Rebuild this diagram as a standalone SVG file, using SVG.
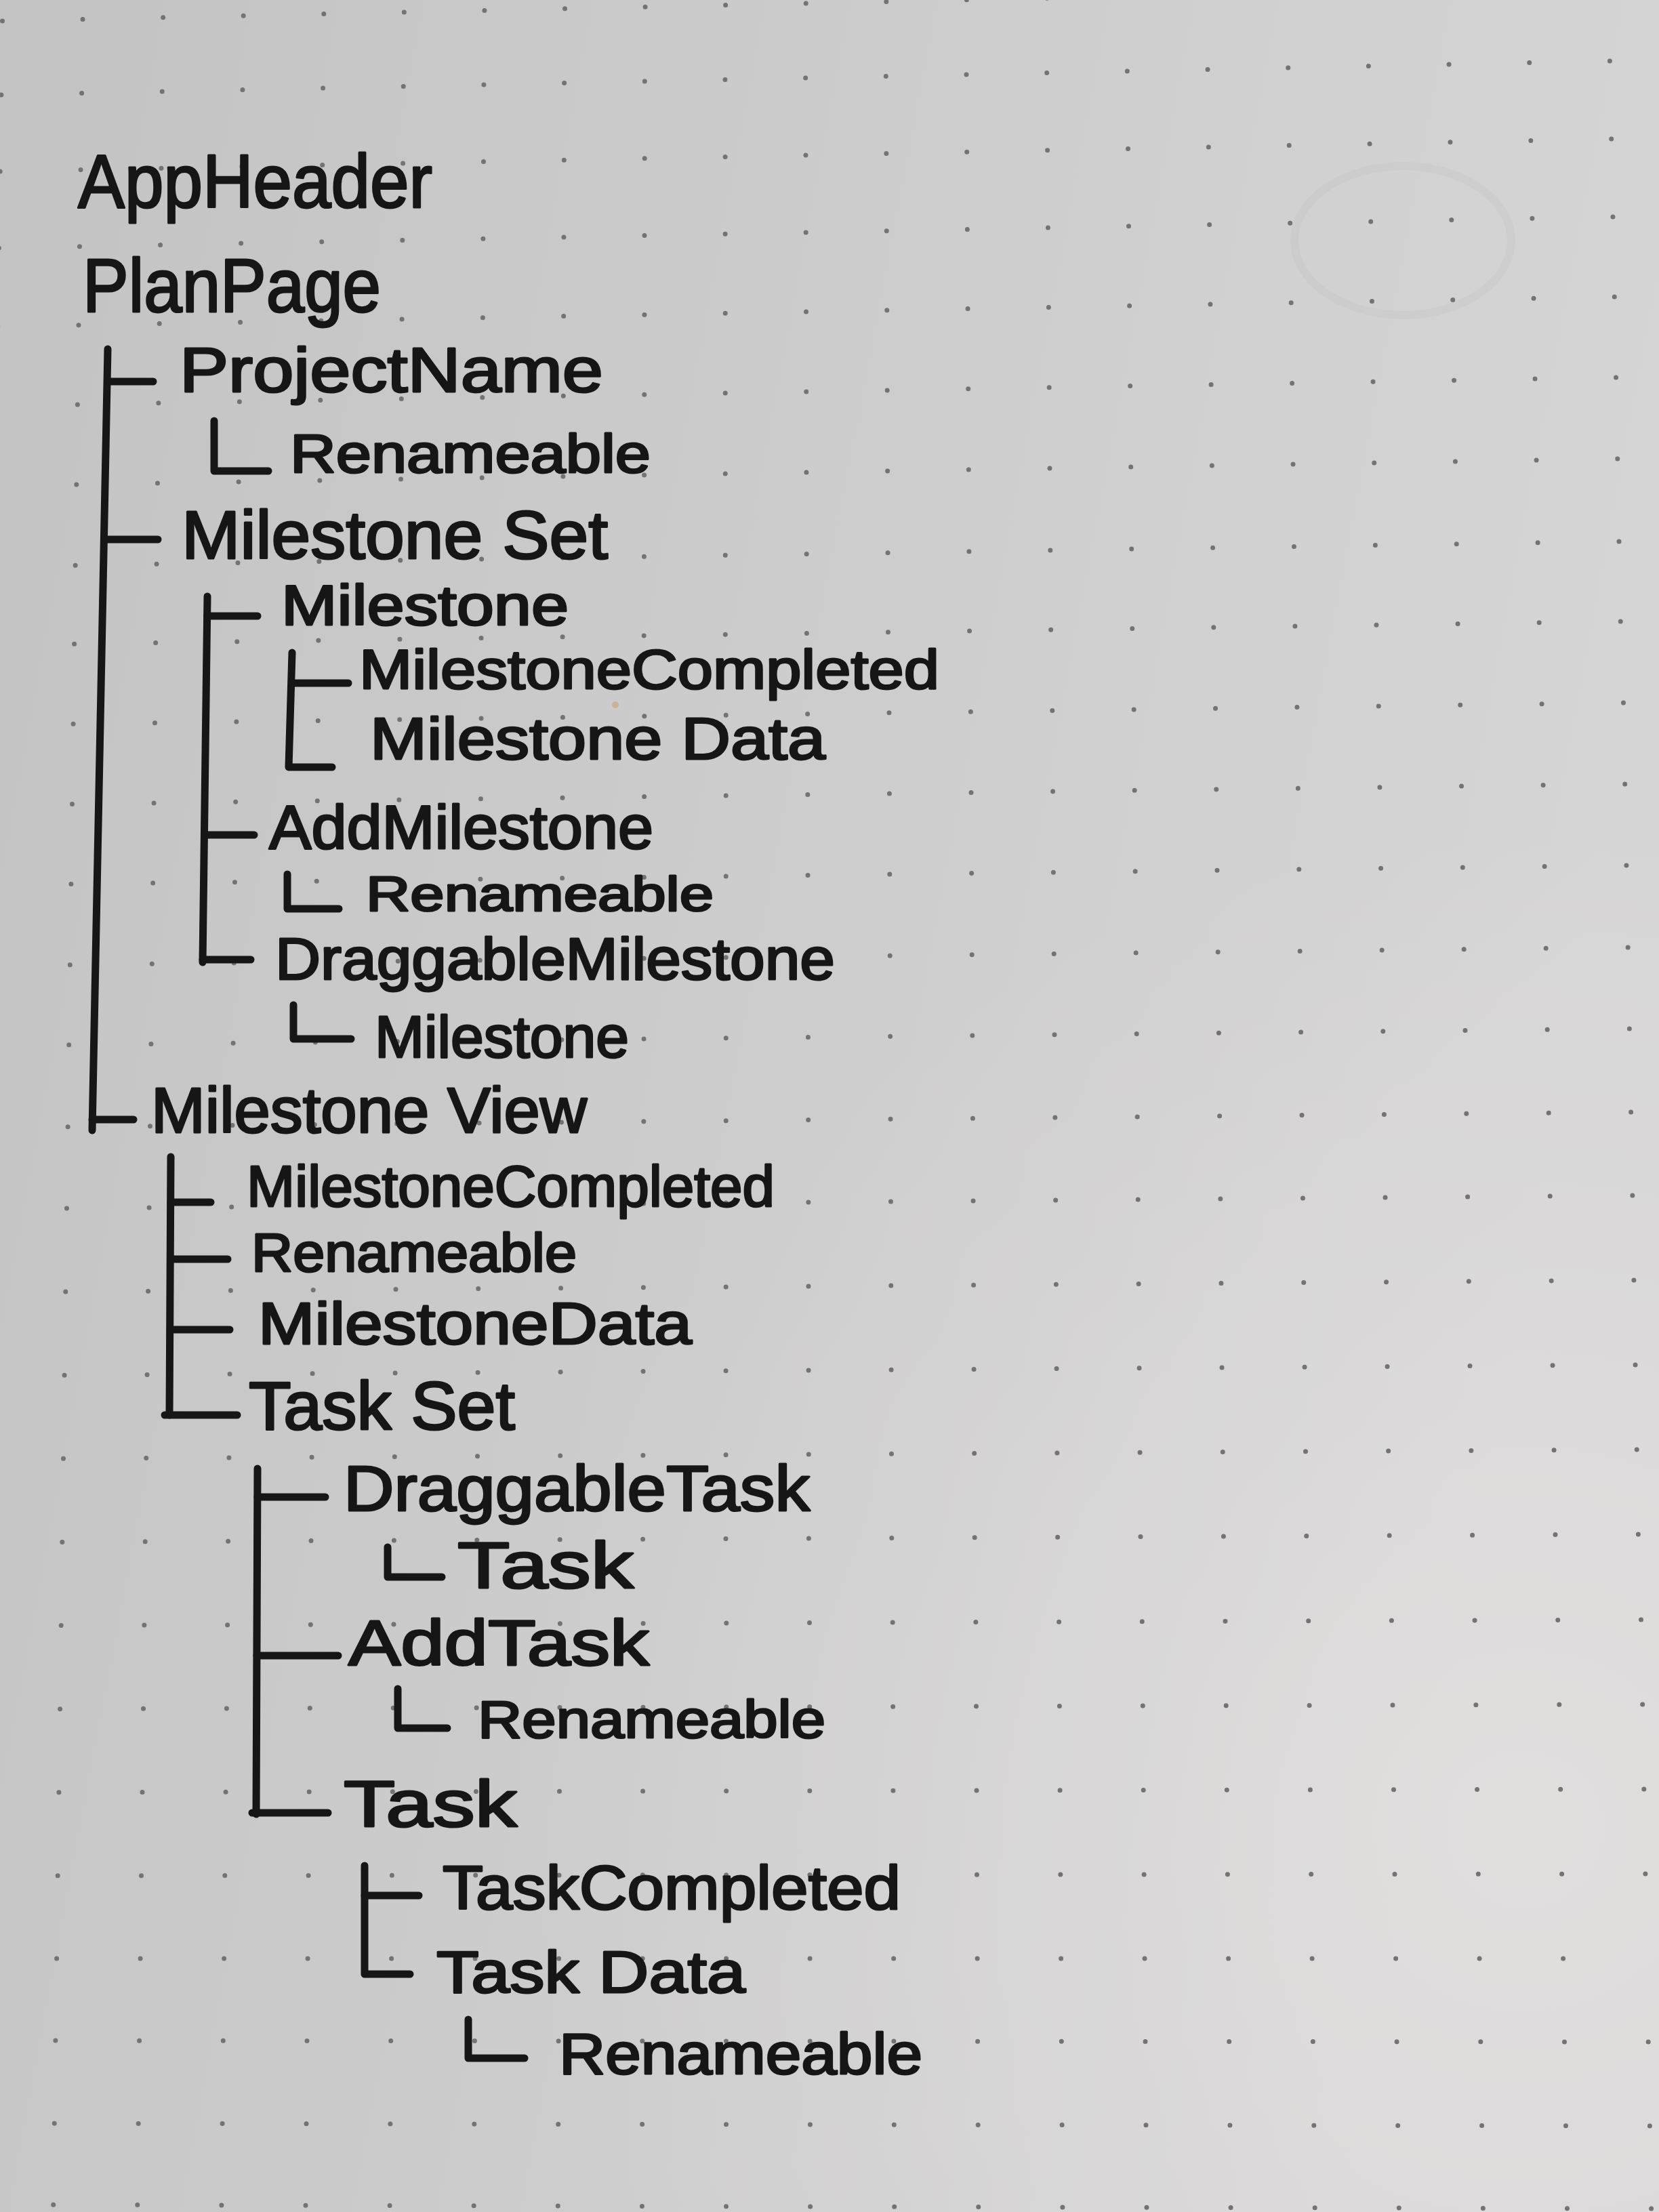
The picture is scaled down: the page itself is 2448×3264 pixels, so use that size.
<svg xmlns="http://www.w3.org/2000/svg" width="2448" height="3264" viewBox="0 0 2448 3264">
  <defs>
    <linearGradient id="paper" x1="0" y1="0" x2="1" y2="0.25">
      <stop offset="0" stop-color="#c3c3c3"/>
      <stop offset="0.5" stop-color="#cccccc"/>
      <stop offset="1" stop-color="#d6d5d5"/>
    </linearGradient>
    <radialGradient id="glow" cx="2250" cy="2700" r="1500" gradientUnits="userSpaceOnUse">
      <stop offset="0" stop-color="#f4eeee" stop-opacity="0.35"/>
      <stop offset="1" stop-color="#f4eeee" stop-opacity="0"/>
    </radialGradient>
    <style>
      .dots path { fill: none; stroke: #737375; stroke-width: 7; stroke-linecap: round; }
      .wire { fill: none; stroke: #161616; stroke-width: 11; stroke-linecap: round; stroke-linejoin: round; }
      .lbl { font-family: "Liberation Sans", "DejaVu Sans", sans-serif; fill: #161616; stroke: #161616; stroke-width: 3; stroke-linejoin: round; }
    </style>
  </defs>

  <!-- paper -->
  <rect width="2448" height="3264" fill="url(#paper)"/>
  <rect width="2448" height="3264" fill="url(#glow)"/>
  <ellipse cx="2070" cy="355" rx="160" ry="110" fill="none" stroke="#000" stroke-opacity="0.025" stroke-width="12"/>
  <circle cx="908" cy="1040" r="5" fill="#d2a57e" opacity="0.7"/>

  <!-- dot grid, one dashed stroke per row -->
  <g class="dots">
    <path d="M3.5 31l2372 -52" stroke-dasharray="0 118.6"/>
    <path d="M1.9 140l2374 -50" stroke-dasharray="0 118.7"/>
    <path d="M0.2 253l2378 -48" stroke-dasharray="0 118.9"/>
    <path d="M-1.6 366l2382 -46" stroke-dasharray="0 119.1"/>
    <path d="M-3.3 482l2386 -44" stroke-dasharray="0 119.3"/>
    <path d="M-5.1 599l2390 -42" stroke-dasharray="0 119.5"/>
    <path d="M-6.9 717l2394 -40" stroke-dasharray="0 119.7"/>
    <path d="M-8.7 836l2398 -37" stroke-dasharray="0 119.9"/>
    <path d="M-10.5 952l2402 -35" stroke-dasharray="0 120.1"/>
    <path d="M-12.3 1070l2408 -33" stroke-dasharray="0 120.4"/>
    <path d="M-14.1 1188l2412 -31" stroke-dasharray="0 120.6"/>
    <path d="M-15.9 1306l2416 -29" stroke-dasharray="0 120.8"/>
    <path d="M-17.7 1425l2420 -27" stroke-dasharray="0 121"/>
    <path d="M-19.5 1543l2424 -25" stroke-dasharray="0 121.2"/>
    <path d="M-21.3 1664l2428 -23" stroke-dasharray="0 121.4"/>
    <path d="M-23.1 1784l2432 -20" stroke-dasharray="0 121.6"/>
    <path d="M-25 1907l2436 -18" stroke-dasharray="0 121.8"/>
    <path d="M-26.9 2030l2440 -16" stroke-dasharray="0 122"/>
    <path d="M-28.7 2153l2444 -14" stroke-dasharray="0 122.2"/>
    <path d="M-30.6 2276l2448 -12" stroke-dasharray="0 122.4"/>
    <path d="M-32.5 2399l2454 -9" stroke-dasharray="0 122.7"/>
    <path d="M-34.3 2522l2458 -7" stroke-dasharray="0 122.9"/>
    <path d="M-36.2 2645l2462 -5" stroke-dasharray="0 123.1"/>
    <path d="M-38.1 2768l2466 -3" stroke-dasharray="0 123.3"/>
    <path d="M-39.9 2890l2470 0" stroke-dasharray="0 123.5"/>
    <path d="M-41.8 3011l2474 2" stroke-dasharray="0 123.7"/>
    <path d="M-43.6 3133l2478 4" stroke-dasharray="0 123.9"/>
    <path d="M-45.4 3253l2482 6" stroke-dasharray="0 124.1"/>
  </g>

  <!-- tree connectors -->
  <g id="connectors" class="wire">
    <!-- PlanPage children -->
    <path d="M159 515 L136 1668"/>
    <path d="M159 563 H226"/>
    <path d="M154 796 H233"/>
    <path d="M136 1652 H197"/>
    <path d="M316 621 V695 H396"/>
    <!-- Milestone Set children -->
    <path d="M306 880 L299 1420"/>
    <path d="M306 909 H380"/>
    <path d="M302 1232 H375"/>
    <path d="M299 1416 H370"/>
    <!-- Milestone children -->
    <path d="M431 963 L426 1132 H490"/>
    <path d="M431 1008 H514"/>
    <path d="M424 1290 V1341 H500"/>
    <path d="M433 1483 V1533 H518"/>
    <!-- Milestone View children -->
    <path d="M252 1707 L250 2088"/>
    <path d="M252 1774 H311"/>
    <path d="M252 1858 H336"/>
    <path d="M251 1962 H339"/>
    <path d="M243 2088 H350"/>
    <!-- Task Set children -->
    <path d="M380 2167 L378 2677"/>
    <path d="M380 2209 H480"/>
    <path d="M379 2443 H499"/>
    <path d="M372 2675 H484"/>
    <path d="M572 2283 V2327 H652"/>
    <path d="M587 2492 V2550 H660"/>
    <!-- Task children -->
    <path d="M538 2753 V2913 H605"/>
    <path d="M538 2797 H618"/>
    <path d="M691 2980 V3037 H774"/>
  </g>

  <!-- nodes -->
  <g id="app-header"><text class="lbl" x="115" y="306" font-size="112" textLength="523" lengthAdjust="spacingAndGlyphs">AppHeader</text></g>
  <g id="plan-page"><text class="lbl" x="122" y="460" font-size="112" textLength="440" lengthAdjust="spacingAndGlyphs">PlanPage</text></g>
  <g id="project-name"><text class="lbl" x="265" y="578" font-size="92" textLength="625" lengthAdjust="spacingAndGlyphs">ProjectName</text></g>
  <g id="project-name-renameable"><text class="lbl" x="428" y="697" font-size="80" textLength="532" lengthAdjust="spacingAndGlyphs">Renameable</text></g>
  <g id="milestone-set"><text class="lbl" x="268" y="824" font-size="100" textLength="629" lengthAdjust="spacingAndGlyphs">Milestone Set</text></g>
  <g id="milestone"><text class="lbl" x="415" y="922" font-size="84" textLength="424" lengthAdjust="spacingAndGlyphs">Milestone</text></g>
  <g id="milestone-completed"><text class="lbl" x="530" y="1016" font-size="82" textLength="856" lengthAdjust="spacingAndGlyphs">MilestoneCompleted</text></g>
  <g id="milestone-data"><text class="lbl" x="546" y="1120" font-size="88" textLength="672" lengthAdjust="spacingAndGlyphs">Milestone Data</text></g>
  <g id="add-milestone"><text class="lbl" x="397" y="1252" font-size="90" textLength="567" lengthAdjust="spacingAndGlyphs">AddMilestone</text></g>
  <g id="add-milestone-renameable"><text class="lbl" x="540" y="1344" font-size="72" textLength="513" lengthAdjust="spacingAndGlyphs">Renameable</text></g>
  <g id="draggable-milestone"><text class="lbl" x="406" y="1445" font-size="88" textLength="826" lengthAdjust="spacingAndGlyphs">DraggableMilestone</text></g>
  <g id="draggable-milestone-milestone"><text class="lbl" x="553" y="1560" font-size="88" textLength="375" lengthAdjust="spacingAndGlyphs">Milestone</text></g>
  <g id="milestone-view"><text class="lbl" x="223" y="1671" font-size="95" textLength="643" lengthAdjust="spacingAndGlyphs">Milestone View</text></g>
  <g id="view-milestone-completed"><text class="lbl" x="364" y="1780" font-size="85" textLength="779" lengthAdjust="spacingAndGlyphs">MilestoneCompleted</text></g>
  <g id="view-renameable"><text class="lbl" x="371" y="1876" font-size="80" textLength="480" lengthAdjust="spacingAndGlyphs">Renameable</text></g>
  <g id="view-milestone-data"><text class="lbl" x="381" y="1983" font-size="88" textLength="640" lengthAdjust="spacingAndGlyphs">MilestoneData</text></g>
  <g id="task-set"><text class="lbl" x="367" y="2109" font-size="100" textLength="393" lengthAdjust="spacingAndGlyphs">Task Set</text></g>
  <g id="draggable-task"><text class="lbl" x="507" y="2229" font-size="95" textLength="688" lengthAdjust="spacingAndGlyphs">DraggableTask</text></g>
  <g id="draggable-task-task"><text class="lbl" x="675" y="2343" font-size="96" textLength="260" lengthAdjust="spacingAndGlyphs">Task</text></g>
  <g id="add-task"><text class="lbl" x="514" y="2457" font-size="95" textLength="444" lengthAdjust="spacingAndGlyphs">AddTask</text></g>
  <g id="add-task-renameable"><text class="lbl" x="705" y="2564" font-size="78" textLength="513" lengthAdjust="spacingAndGlyphs">Renameable</text></g>
  <g id="task"><text class="lbl" x="507" y="2695" font-size="96" textLength="256" lengthAdjust="spacingAndGlyphs">Task</text></g>
  <g id="task-completed"><text class="lbl" x="653" y="2817" font-size="90" textLength="676" lengthAdjust="spacingAndGlyphs">TaskCompleted</text></g>
  <g id="task-data"><text class="lbl" x="644" y="2940" font-size="88" textLength="456" lengthAdjust="spacingAndGlyphs">Task Data</text></g>
  <g id="task-data-renameable"><text class="lbl" x="825" y="3060" font-size="85" textLength="536" lengthAdjust="spacingAndGlyphs">Renameable</text></g>
</svg>
